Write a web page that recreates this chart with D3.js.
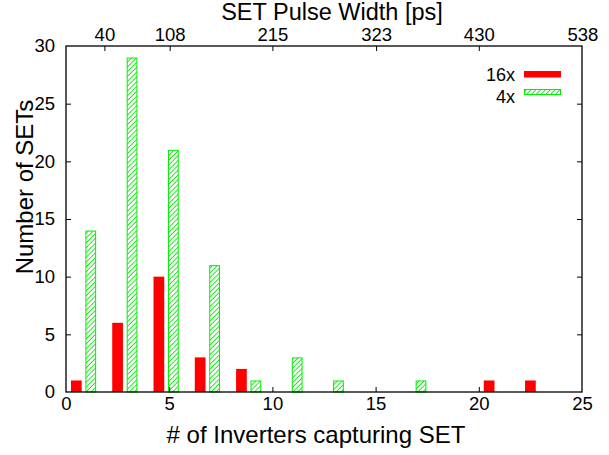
<!DOCTYPE html>
<html>
<head>
<meta charset="utf-8">
<script src="https://cdn.jsdelivr.net/npm/d3@7"></script>
<style>
  body { margin: 0; background: #fff; }
  text { font-family: "Liberation Sans", Arial, sans-serif; fill: #000; }
</style>
</head>
<body>
<div id="chart"></div>
<script>
// bins of the 16x chain (bar centres) and counts
var redX = [0.5, 2.5, 4.5, 6.5, 8.5, 20.5, 22.5];
var redY = [1, 6, 10, 3, 2, 1, 1];
// bins of the 4x chain
var greenX = [1.2, 3.2, 5.2, 7.2, 9.2, 11.2, 13.2, 17.2];
var greenY = [14, 29, 21, 11, 1, 3, 1, 1];
var xTicks = [0, 5, 10, 15, 20, 25];
var yTicks = [0, 5, 10, 15, 20, 25, 30];
var topTicks = [40, 108, 215, 323, 430, 538];
var seriesNames = ["16x", "4x"];

var W = 609, H = 455;
var margin = { top: 46, right: 27, bottom: 63, left: 66 },
  width = W - margin.left - margin.right,
  height = H - margin.top - margin.bottom;
var barW = 0.52;
var red = "#ff0000", green = "#00ee00";

var svg = d3.select("#chart").append("svg")
  .attr("width", W).attr("height", H);

var defs = svg.append("defs");
var pat = defs.append("pattern").attr("id", "hatch")
  .attr("patternUnits", "userSpaceOnUse")
  .attr("width", 3.4).attr("height", 3.4)
  .attr("patternTransform", "rotate(45)");
pat.append("line").attr("x1", 0).attr("y1", 0).attr("x2", 0).attr("y2", 3.4)
  .attr("stroke", green).attr("stroke-width", 1.7);

var x = d3.scaleLinear().domain([0, 25]).range([0, width]);
var y = d3.scaleLinear().domain([0, 30]).range([height, 0]);
// top axis: pulse width, 21.5 ps per inverter
var x2 = d3.scaleLinear().domain([0, 537.5]).range([0, width]);

var g = svg.append("g").attr("transform", "translate(" + margin.left + "," + margin.top + ")");

// red bars
g.selectAll(".red").data(redX).enter().append("rect")
  .attr("x", function (d) { return x(d - barW / 2); })
  .attr("width", x(barW) - x(0))
  .attr("y", function (d, i) { return y(redY[i]); })
  .attr("height", function (d, i) { return height - y(redY[i]); })
  .attr("fill", red);

// green hatched bars
g.selectAll(".green").data(greenX).enter().append("rect")
  .attr("x", function (d) { return x(d - barW / 2) + 0.5; })
  .attr("width", x(barW) - x(0) - 1)
  .attr("y", function (d, i) { return y(greenY[i]) + 0.5; })
  .attr("height", function (d, i) { return height - y(greenY[i]) - 0.5; })
  .attr("fill", "url(#hatch)").attr("stroke", green).attr("stroke-width", 1);

// axes (ticks point inward)
var fs = "18.5px";
var bottomAx = g.append("g").attr("transform", "translate(0," + height + ")")
  .call(d3.axisBottom(x).tickValues(xTicks).tickSizeInner(-5).tickSizeOuter(0).tickPadding(9));
var topAx = g.append("g")
  .call(d3.axisTop(x2).tickValues(topTicks).tickSizeInner(-5).tickSizeOuter(0).tickPadding(9));
var leftAx = g.append("g")
  .call(d3.axisLeft(y).tickValues(yTicks).tickSizeInner(-5).tickSizeOuter(0).tickPadding(11));
var rightAx = g.append("g").attr("transform", "translate(" + width + ",0)")
  .call(d3.axisRight(y).tickValues(yTicks).tickSizeInner(-5).tickSizeOuter(0).tickFormat(""));

[bottomAx, topAx, leftAx, rightAx].forEach(function (a) {
  a.select(".domain").remove();
  a.selectAll("line").attr("stroke", "#000").attr("stroke-width", 1);
  a.selectAll("text").style("font-size", fs).style("font-family", "Liberation Sans, Arial, sans-serif");
});
bottomAx.selectAll("text").attr("dy", "0.71em").attr("y", 5);
topAx.selectAll("text").attr("dy", 0).attr("y", -5);
// first and last ticks sit on the frame
bottomAx.selectAll(".tick line").filter(function (d) { return d === 0 || d === 25; }).remove();
leftAx.selectAll(".tick line").filter(function (d) { return d === 0 || d === 30; }).remove();
rightAx.selectAll(".tick line").filter(function (d) { return d === 0 || d === 30; }).remove();
topAx.selectAll(".tick line").filter(function (d) { return d === 538; }).remove();

// frame
g.append("rect").attr("width", width).attr("height", height)
  .attr("fill", "none").attr("stroke", "#000").attr("stroke-width", 1.3);

// titles
svg.append("text").attr("x", 332).attr("y", 20).attr("text-anchor", "middle")
  .style("font-size", "23.5px").text("SET Pulse Width [ps]");
svg.append("text").attr("x", 316).attr("y", 443).attr("text-anchor", "middle")
  .style("font-size", "24px").text("# of Inverters capturing SET");
svg.append("text").attr("transform", "translate(33,187) rotate(-90)").attr("text-anchor", "middle")
  .style("font-size", "24px").text("Number of SETs");

// legend
var leg = svg.append("g");
leg.append("text").attr("x", 515).attr("y", 81).attr("text-anchor", "end")
  .style("font-size", "18px").text(seriesNames[0]);
leg.append("rect").attr("x", 524).attr("y", 71).attr("width", 37).attr("height", 6.5).attr("fill", red);
leg.append("text").attr("x", 515).attr("y", 103).attr("text-anchor", "end")
  .style("font-size", "18px").text(seriesNames[1]);
leg.append("rect").attr("x", 524.5).attr("y", 89.5).attr("width", 36).attr("height", 5)
  .attr("fill", "url(#hatch)").attr("stroke", green).attr("stroke-width", 1);
</script>
</body>
</html>
